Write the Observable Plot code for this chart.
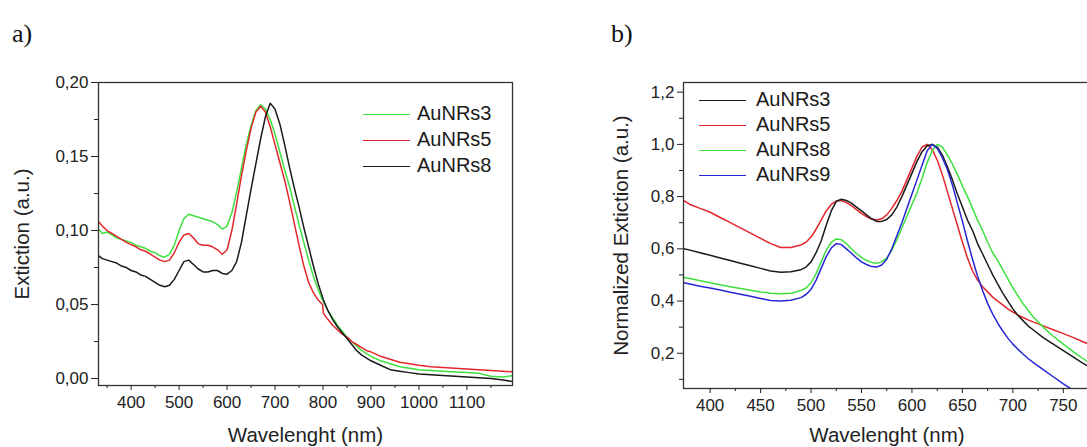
<!DOCTYPE html>
<html><head><meta charset="utf-8">
<script src="https://cdn.jsdelivr.net/npm/d3@7"></script>
<script src="https://cdn.jsdelivr.net/npm/@observablehq/plot@0.6"></script>
<style>
html,body{margin:0;padding:0;background:#fff;overflow:hidden;}
#wrap{position:relative;width:1087px;height:447px;overflow:hidden;background:#fff;font-family:"Liberation Sans",Arial,sans-serif;}
.pl{position:absolute;top:0;}
.tag{position:absolute;font-family:"Liberation Serif","Times New Roman",serif;font-size:26px;line-height:1;color:#111;}
.leg{position:absolute;font-size:20px;color:#1a1a1a;}
.leg .row{white-space:nowrap;}
.leg .ln{display:inline-block;width:47px;height:0;border-top:1.6px solid;vertical-align:middle;}
g[aria-label="x-axis label"] text, g[aria-label="y-axis label"] text{font-size:20.5px;}
</style>
</head><body>
<div id="wrap"></div>
<script>
// ---------- Panel a data ----------
const wlA = [332,340,350,360,370,380,390,400,410,420,430,440,450,460,470,480,490,500,510,520,530,540,550,560,570,580,590,600,610,620,630,640,650,660,670,680,690,700,710,720,730,740,750,760,770,780,790,799,801,810,820,830,840,850,860,870,880,890,900,920,940,960,980,1000,1025,1050,1075,1100,1125,1150,1175,1195];
const aAuNRs3 = [0.101,0.098,0.099,0.097,0.095,0.094,0.093,0.092,0.090,0.089,0.088,0.086,0.085,0.083,0.082,0.084,0.090,0.100,0.108,0.111,0.110,0.109,0.108,0.107,0.106,0.104,0.101,0.103,0.112,0.126,0.142,0.158,0.171,0.181,0.185,0.182,0.175,0.165,0.153,0.141,0.130,0.117,0.104,0.092,0.080,0.069,0.060,0.053,0.052,0.046,0.041,0.036,0.032,0.028,0.025,0.022,0.019,0.017,0.015,0.012,0.010,0.008,0.007,0.006,0.0055,0.005,0.0045,0.004,0.0035,0.0015,0.001,0.002];
const aAuNRs5 = [0.106,0.103,0.100,0.098,0.096,0.094,0.092,0.0905,0.089,0.087,0.086,0.084,0.082,0.080,0.079,0.080,0.085,0.092,0.097,0.098,0.095,0.091,0.090,0.090,0.089,0.087,0.084,0.087,0.100,0.118,0.137,0.154,0.169,0.180,0.184,0.180,0.170,0.158,0.146,0.134,0.120,0.105,0.090,0.076,0.065,0.058,0.053,0.050,0.044,0.040,0.036,0.033,0.030,0.028,0.025,0.023,0.021,0.019,0.018,0.015,0.013,0.011,0.010,0.009,0.008,0.0075,0.007,0.0065,0.006,0.0055,0.005,0.0045];
const aAuNRs8 = [0.083,0.081,0.080,0.079,0.078,0.076,0.075,0.073,0.072,0.070,0.069,0.067,0.065,0.063,0.062,0.063,0.067,0.073,0.079,0.080,0.077,0.074,0.072,0.072,0.073,0.073,0.071,0.0705,0.073,0.079,0.092,0.110,0.128,0.145,0.162,0.177,0.186,0.182,0.172,0.158,0.143,0.129,0.116,0.102,0.089,0.076,0.064,0.055,0.053,0.046,0.040,0.035,0.031,0.027,0.023,0.019,0.016,0.014,0.012,0.009,0.006,0.005,0.004,0.003,0.0025,0.002,0.0015,0.001,0.0005,0.0,-0.001,-0.002];
const namesA = ["AuNRs3","AuNRs5","AuNRs8"];
const colorsA = ["#3ee03e","#e3262b","#1a1a1a"];
const xTicksA = [400,500,600,700,800,900,1000,1100];
const xMinorA = [350,450,550,650,750,850,950,1050,1150];
const yTicksA = [0.00,0.05,0.10,0.15,0.20];
const yMinorA = [0.025,0.075,0.125,0.175];

// ---------- Panel b data ----------
const wlB = [374,380,390,400,410,420,430,440,450,460,470,480,490,495,500,505,510,515,520,525,530,535,540,545,550,555,560,565,570,575,580,585,590,595,600,605,610,615,620,625,630,635,640,645,650,655,660,665,670,675,680,685,690,695,700,705,710,715,720,730,740,750,760,770,777];
const bAuNRs3 = [0.60,0.595,0.585,0.575,0.565,0.555,0.545,0.535,0.525,0.515,0.51,0.512,0.52,0.53,0.55,0.585,0.63,0.69,0.745,0.782,0.79,0.785,0.775,0.76,0.745,0.73,0.715,0.705,0.705,0.712,0.73,0.76,0.80,0.845,0.89,0.935,0.972,0.995,1.0,0.99,0.96,0.915,0.865,0.81,0.76,0.71,0.67,0.62,0.58,0.54,0.50,0.465,0.43,0.40,0.37,0.345,0.325,0.305,0.29,0.26,0.235,0.21,0.185,0.16,0.145];
const bAuNRs5 = [0.785,0.77,0.755,0.74,0.72,0.70,0.68,0.66,0.64,0.62,0.605,0.605,0.615,0.625,0.645,0.675,0.71,0.745,0.77,0.783,0.785,0.777,0.765,0.75,0.735,0.723,0.714,0.71,0.715,0.73,0.755,0.785,0.82,0.865,0.91,0.955,0.99,1.0,0.98,0.94,0.885,0.82,0.755,0.69,0.625,0.565,0.515,0.48,0.455,0.435,0.415,0.40,0.385,0.37,0.358,0.347,0.337,0.328,0.32,0.305,0.29,0.275,0.26,0.243,0.232];
const bAuNRs8 = [0.49,0.486,0.478,0.47,0.462,0.455,0.448,0.441,0.435,0.43,0.428,0.43,0.44,0.45,0.47,0.505,0.55,0.595,0.625,0.638,0.635,0.62,0.60,0.582,0.567,0.555,0.548,0.545,0.55,0.565,0.595,0.635,0.68,0.725,0.77,0.815,0.87,0.93,0.975,1.0,0.99,0.96,0.925,0.885,0.84,0.80,0.755,0.71,0.67,0.625,0.585,0.555,0.52,0.485,0.45,0.42,0.39,0.365,0.34,0.30,0.265,0.235,0.205,0.178,0.16];
const bAuNRs9 = [0.47,0.465,0.457,0.45,0.442,0.434,0.426,0.418,0.41,0.402,0.40,0.403,0.413,0.425,0.445,0.48,0.525,0.57,0.603,0.62,0.616,0.60,0.583,0.565,0.55,0.54,0.532,0.53,0.538,0.56,0.60,0.65,0.70,0.755,0.81,0.865,0.92,0.975,1.0,0.985,0.95,0.905,0.845,0.775,0.705,0.63,0.56,0.495,0.44,0.39,0.35,0.315,0.285,0.258,0.235,0.215,0.197,0.18,0.165,0.137,0.11,0.083,0.058,0.04,0.03];
const namesB = ["AuNRs3","AuNRs5","AuNRs8","AuNRs9"];
const colorsB = ["#1a1a1a","#e3262b","#3ee03e","#2626d6"];
const xTicksB = [400,450,500,550,600,650,700,750];
const xMinorB = [425,475,525,575,625,675,725,775];
const yTicksB = [0.2,0.4,0.6,0.8,1.0,1.2];
const yMinorB = [0.1,0.3,0.5,0.7,0.9,1.1];

// ---------- build ----------
const fmt = d => (d === 0 ? "0,00" : d.toFixed(2)).replace(".", ",");
const fmt1 = d => d.toFixed(1).replace(".", ",");
const blank = () => "";
const baseStyle = {fontFamily: '"Liberation Sans", Arial, sans-serif', fontSize: "17px", color: "#222", background: "white", overflow: "visible"};

const rowsA = [aAuNRs3, aAuNRs5, aAuNRs8].flatMap((vals, k) => wlA.map((w, i) => ({wl: w, v: vals[i], name: namesA[k]})));
const orderB = [1, 0, 2, 3];
const valsB = [bAuNRs3, bAuNRs5, bAuNRs8, bAuNRs9];
const rowsB = orderB.flatMap(k => wlB.map((w, i) => ({wl: w, v: valsB[k][i], name: namesB[k]})));

const plotA = Plot.plot({
  width: 540, height: 447,
  marginLeft: 98, marginRight: 28, marginTop: 82, marginBottom: 62,
  style: baseStyle,
  x: {domain: [332, 1195]},
  y: {domain: [-0.0047, 0.2]},
  color: {domain: namesA, range: colorsA},
  marks: [
    Plot.line(rowsA, {x: "wl", y: "v", z: "name", stroke: "name", strokeWidth: 1.5, clip: true}),
    Plot.frame({stroke: "#333", strokeWidth: 1.3}),
    Plot.axisX({ticks: xTicksA, tickSize: 5, tickPadding: 5, tickFormat: d => String(d), label: "Wavelenght (nm)", labelArrow: "none", labelAnchor: "center", labelOffset: 56}),
    Plot.axisX({ticks: xMinorA, tickSize: 3, tickFormat: blank, label: null}),
    Plot.axisY({ticks: yTicksA, tickSize: 7, tickPadding: 3, tickFormat: fmt, label: "Extiction (a.u.)", labelArrow: "none", labelAnchor: "center", labelOffset: 84}),
    Plot.axisY({ticks: yMinorA, tickSize: 4, tickFormat: blank, label: null})
  ]
});

const plotB = Plot.plot({
  width: 530, height: 447,
  marginLeft: 123, marginRight: 0, marginTop: 82, marginBottom: 59,
  style: baseStyle,
  x: {domain: [373.6, 776.9]},
  y: {domain: [0.065, 1.237]},
  color: {domain: namesB, range: colorsB},
  marks: [
    Plot.line(rowsB, {x: "wl", y: "v", z: "name", stroke: "name", strokeWidth: 1.5, clip: true}),
    Plot.frame({stroke: "#333", strokeWidth: 1.3}),
    Plot.axisX({ticks: xTicksB, tickSize: 5, tickPadding: 5, tickFormat: d => String(d), label: "Wavelenght (nm)", labelArrow: "none", labelAnchor: "center", labelOffset: 53}),
    Plot.axisX({ticks: xMinorB, tickSize: 3, tickFormat: blank, label: null}),
    Plot.axisY({ticks: yTicksB, tickSize: 6, tickPadding: 3, tickFormat: fmt1, label: "Normalized Extiction (a.u.)", labelArrow: "none", labelAnchor: "center", labelOffset: 70}),
    Plot.axisY({ticks: yMinorB, tickSize: 4, tickFormat: blank, label: null})
  ]
});

const wrap = document.getElementById("wrap");
plotA.classList.add("pl"); plotA.style.left = "0px";
plotB.classList.add("pl"); plotB.style.left = "560px";
wrap.appendChild(plotA);
wrap.appendChild(plotB);

function tag(text, left, top) {
  const d = document.createElement("div");
  d.className = "tag"; d.textContent = text;
  d.style.left = left + "px"; d.style.top = top + "px";
  wrap.appendChild(d);
}
tag("a)", 12, 21);
tag("b)", 611, 21);

function legend(names, colors, left, top, rowH, gap) {
  const box = document.createElement("div");
  box.className = "leg";
  box.style.left = left + "px"; box.style.top = top + "px";
  names.forEach((n, i) => {
    const r = document.createElement("div");
    r.className = "row"; r.style.height = rowH + "px"; r.style.lineHeight = rowH + "px";
    const ln = document.createElement("span");
    ln.className = "ln"; ln.style.borderTopColor = colors[i]; ln.style.marginRight = gap + "px";
    const t = document.createElement("span"); t.textContent = n;
    r.appendChild(ln); r.appendChild(t);
    box.appendChild(r);
  });
  wrap.appendChild(box);
}
legend(namesA, colorsA, 363, 100, 26, 7);
legend(namesB, colorsB, 699, 87, 25, 10);
</script>
</body></html>
